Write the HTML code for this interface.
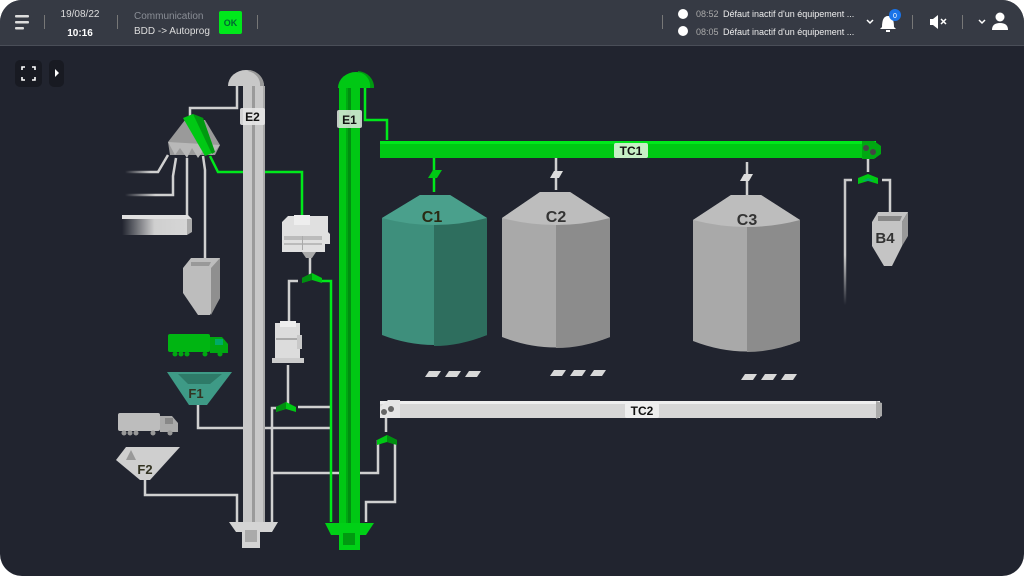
<!DOCTYPE html>
<html><head><meta charset="utf-8"><style>
html,body{margin:0;padding:0;background:#fff;}
body{width:1024px;height:576px;overflow:hidden;font-family:"Liberation Sans",sans-serif;}
svg{display:block}
</style></head><body>
<svg width="1024" height="576" viewBox="0 0 1024 576" xmlns="http://www.w3.org/2000/svg" font-family="Liberation Sans, sans-serif">
<defs>
<clipPath id="scr"><rect x="0" y="0" width="1024" height="576" rx="22"/></clipPath>
<linearGradient id="bar" x1="0" x2="1"><stop offset="0" stop-color="#21242f"/><stop offset="0.5" stop-color="#cfcfcf"/><stop offset="1" stop-color="#d6d6d6"/></linearGradient>
<linearGradient id="fade" x1="0" x2="1"><stop offset="0" stop-color="#21242f"/><stop offset="0.6" stop-color="#d0d0d0"/></linearGradient>
<linearGradient id="fadev" x1="0" y1="0" x2="0" y2="1"><stop offset="0.6" stop-color="#c8c8c8"/><stop offset="1" stop-color="#21242f"/></linearGradient>
</defs>
<g clip-path="url(#scr)">
<rect width="1024" height="576" fill="#21242f"/>
<rect width="1024" height="45" fill="#363a44"/>
<rect y="45" width="1024" height="1" fill="#4a4e58"/>
<!-- header -->
<rect x="15" y="15" width="14" height="2.5" rx="1" fill="#ddd"/><rect x="15" y="21" width="14" height="2.5" rx="1" fill="#ddd"/><rect x="15" y="27" width="9" height="2.5" rx="1" fill="#ddd"/>
<rect x="44" y="15" width="1" height="14" fill="#777"/>
<text x="80" y="17" font-size="10" fill="#ddd" text-anchor="middle">19/08/22</text>
<text x="80" y="36" font-size="10" font-weight="bold" fill="#fff" text-anchor="middle">10:16</text>
<rect x="117" y="15" width="1" height="14" fill="#777"/>
<text x="134" y="19" font-size="10" fill="#8a8e96">Communication</text>
<text x="134" y="34" font-size="10" fill="#ddd">BDD -&gt; Autoprog</text>
<rect x="219" y="11" width="23" height="23" rx="2" fill="#00e81b"/>
<text x="230.5" y="26" font-size="9" font-weight="bold" fill="#063" text-anchor="middle">OK</text>
<rect x="257" y="15" width="1" height="14" fill="#777"/>
<rect x="662" y="15" width="1" height="14" fill="#777"/>
<circle cx="683" cy="14" r="5" fill="#fff"/><circle cx="683" cy="31" r="5" fill="#fff"/>
<text x="696" y="17" font-size="9" fill="#aaa">08:52</text><text x="723" y="17" font-size="9" fill="#eee">Défaut inactif d'un équipement ...</text>
<text x="696" y="35" font-size="9" fill="#aaa">08:05</text><text x="723" y="35" font-size="9" fill="#eee">Défaut inactif d'un équipement ...</text>
<path d="M867 20 l3 3 l3 -3" stroke="#fff" stroke-width="1.5" fill="none"/>
<path d="M882 27 q0 -11 6 -11 q6 0 6 11 l2 2 h-16z" fill="#fff"/><rect x="886" y="30" width="4" height="2" fill="#fff"/>
<circle cx="895" cy="15" r="6" fill="#1a73e8"/><text x="895" y="18" font-size="7" fill="#fff" text-anchor="middle">0</text>
<rect x="912" y="15" width="1" height="14" fill="#777"/>
<path d="M930 19 h3 l5 -4 v14 l-5 -4 h-3z" fill="#fff"/><path d="M941 19 l5 5 M946 19 l-5 5" stroke="#fff" stroke-width="1.5"/>
<rect x="962" y="15" width="1" height="14" fill="#777"/>
<path d="M979 20 l3 3 l3 -3" stroke="#fff" stroke-width="1.5" fill="none"/>
<circle cx="1000" cy="17" r="4.5" fill="#fff"/><path d="M992 30 q0 -7 8 -7 q8 0 8 7z" fill="#fff"/>
<!-- canvas buttons -->
<rect x="15" y="60" width="27" height="27" rx="5" fill="#181a22"/>
<path d="M22 70 v-3 h3 M32 67 h3 v3 M35 77 v3 h-3 M25 80 h-3 v-3" stroke="#fff" stroke-width="1.6" fill="none"/>
<rect x="49" y="60" width="15" height="27" rx="5" fill="#181a22"/>
<path d="M55 69 l4 4 l-4 4z" fill="#fff"/>

<!-- grey lines -->
<g stroke="#d0d0d0" stroke-width="2.5" fill="none">
<path d="M237 86 V108 H190 V116"/>
<path d="M187 158 V222"/>
<path d="M203 156 L205 170 V260"/>
<path d="M176 158 L173 176 V195 H125" stroke="url(#fade)"/>
<path d="M168 155 L158 172 H125" stroke="url(#fade)"/>
<path d="M310 258 V275"/>
<path d="M298 281 H289 V322"/>
<path d="M288 365 V404"/>
<path d="M298 407 H331"/>
<path d="M280 408 H272 V522"/>
<path d="M198 405 V428 H331"/>
<path d="M272 473 H378 V440"/>
<path d="M395 442 V502 H366 V522"/>
<path d="M386 415 V432"/>
<path d="M145 480 V495 H237 V522"/>
<path d="M868 158 V172"/>
<path d="M852 180 H845 V305" stroke="url(#fadev)"/>
<path d="M882 180 H890 V212"/>
</g>
<!-- green lines -->
<g stroke="#00e81b" stroke-width="2.5" fill="none">
<path d="M210 156 L218 172 H302 V218"/>
<path d="M320 281 H331 V522"/>
<path d="M365 88 V120 H387 V140"/>
<path d="M434 158 V192"/>
</g>
<path d="M556 158 V190 M747 162 V195" stroke="#d0d0d0" stroke-width="2.5"/>

<!-- E2 -->
<path d="M228 86 a18 16 0 0 1 36 0z" fill="#c8c8c8"/><path d="M250 70 a18 16 0 0 1 14 16 h-4 a16 14 0 0 0 -12 -15z" fill="#999"/>
<rect x="243" y="86" width="9" height="440" fill="#c8c8c8"/><rect x="255" y="86" width="9" height="440" fill="#c8c8c8"/>
<rect x="252" y="86" width="3" height="440" fill="#9a9a9a"/>
<rect x="263" y="86" width="2" height="440" fill="#aaa"/>
<path d="M229 522 H278 L272 532 H260 V548 H242 V532 H236z" fill="#d4d4d4"/><rect x="245" y="530" width="12" height="12" fill="#aaa"/>
<rect x="240" y="108" width="25" height="17" rx="2" fill="#e6e6e6" opacity="0.9"/>
<text x="252.5" y="121" font-size="12" font-weight="bold" fill="#111" text-anchor="middle">E2</text>
<!-- E1 -->
<path d="M338 88 a18 16 0 0 1 36 0z" fill="#00c814"/><path d="M358 71 a18 16 0 0 1 16 17 h-4 a14 14 0 0 0 -12 -16z" fill="#009a10"/>
<rect x="339" y="88" width="9" height="440" fill="#00c814"/><rect x="351" y="88" width="9" height="440" fill="#00c814"/>
<rect x="348" y="88" width="3" height="440" fill="#008f10"/><rect x="346" y="88" width="2" height="440" fill="#00a812"/>
<path d="M325 523 H374 L366 535 H360 V550 H339 V535 H331z" fill="#00d016"/><rect x="343" y="533" width="12" height="12" fill="#009a10"/>
<rect x="337" y="110" width="25" height="18" rx="2" fill="#dfe8df" opacity="0.85"/>
<text x="349.5" y="124" font-size="12" font-weight="bold" fill="#111" text-anchor="middle">E1</text>

<!-- TC1 -->
<rect x="380" y="141" width="496" height="17" fill="#00c814"/><rect x="380" y="141" width="496" height="3" fill="#00e81b"/>
<path d="M862 141 h12 l7 5 v8 l-7 5 h-12z" fill="#00a812"/><circle cx="866" cy="148" r="3" fill="#444"/><circle cx="873" cy="152" r="3" fill="#444"/>
<rect x="614" y="143" width="34" height="15" rx="2" fill="#c6f0c6"/>
<text x="631" y="155" font-size="12" font-weight="bold" fill="#111" text-anchor="middle">TC1</text>
<!-- TC2 -->
<rect x="380" y="401" width="500" height="17" fill="#d6d6d6"/><rect x="380" y="401" width="500" height="3" fill="#eee"/><path d="M876 401 l6 2 v13 l-6 3z" fill="#aaa"/>
<path d="M380 407 l8 -7 h12 v18 h-20z" fill="#e6e6e6"/><circle cx="384" cy="412" r="3" fill="#666"/><circle cx="391" cy="409" r="3" fill="#666"/>
<rect x="625" y="403" width="34" height="15" rx="2" fill="#eee"/>
<text x="642" y="415" font-size="12" font-weight="bold" fill="#111" text-anchor="middle">TC2</text>

<!-- silo valves -->
<path d="M428 178 l5 -8 h9 l-5 8z" fill="#00c814"/>
<path d="M550 178 l4 -7 h9 l-4 7z" fill="#ddd"/>
<path d="M740 181 l4 -7 h9 l-4 7z" fill="#ddd"/>
<!-- silos -->
<g>
<path d="M382 218 L420 195 H450 L487 218 V335 Q434 355 382 335z" fill="#3e8f7c"/>
<path d="M434 195 H450 L487 218 V335 Q460 346 434 346z" fill="#2e6e5e"/>
<path d="M382 218 L420 195 H450 L487 218 Q434 232 382 218z" fill="#4aa08c"/>
<text x="432" y="222" font-size="16" font-weight="bold" fill="#2a2a14" text-anchor="middle">C1</text>
</g>
<g>
<path d="M502 218 L540 192 H570 L610 218 V337 Q556 358 502 337z" fill="#a9a9a9"/>
<path d="M556 192 H570 L610 218 V337 Q583 348 556 348z" fill="#8c8c8c"/>
<path d="M502 218 L540 192 H570 L610 218 Q556 232 502 218z" fill="#bdbdbd"/>
<text x="556" y="222" font-size="16" font-weight="bold" fill="#333" text-anchor="middle">C2</text>
</g>
<g>
<path d="M693 220 L731 195 H761 L800 220 V341 Q747 362 693 341z" fill="#a9a9a9"/>
<path d="M747 195 H761 L800 220 V341 Q773 352 747 352z" fill="#8c8c8c"/>
<path d="M693 220 L731 195 H761 L800 220 Q747 234 693 220z" fill="#bdbdbd"/>
<text x="747" y="225" font-size="16" font-weight="bold" fill="#333" text-anchor="middle">C3</text>
</g>
<g fill="#d8d8d8">
<path d="M425 377 l4 -6 h12 l-4 6z"/><path d="M445 377 l4 -6 h12 l-4 6z"/><path d="M465 377 l4 -6 h12 l-4 6z"/>
<path d="M550 376 l4 -6 h12 l-4 6z"/><path d="M570 376 l4 -6 h12 l-4 6z"/><path d="M590 376 l4 -6 h12 l-4 6z"/>
<path d="M741 380 l4 -6 h12 l-4 6z"/><path d="M761 380 l4 -6 h12 l-4 6z"/><path d="M781 380 l4 -6 h12 l-4 6z"/>
</g>
<!-- B4 -->
<path d="M858 178 l10 -4 l10 4 v6 l-10 -3 l-10 3z" fill="#00c814"/><path d="M862 181 l6 -3 l6 3z" fill="#0a6"/>
<path d="M872 222 l6 -10 h30 l-6 10 v24 l-10 20 h-8 l-12 -20z" fill="#c4c4c4"/><path d="M902 222 l6 -10 v24 l-6 10z" fill="#999"/><path d="M878 216 h24 l-2 5 h-22z" fill="#888"/>
<text x="885" y="243" font-size="15" font-weight="bold" fill="#333" text-anchor="middle">B4</text>

<!-- distributor -->
<path d="M168 142 L185 120 H205 L220 145 L215 155 H170z" fill="#9a9a9a"/>
<path d="M168 142 L175 155 L180 148 L187 158 L192 148 L198 158 L205 148 L212 155 L220 145" fill="#b8b8b8"/>
<path d="M183 118 l10 -4 l10 4 l12 34 l-10 4z" fill="#00c814"/><path d="M193 114 l10 4 l12 34 l-3 2z" fill="#009a10"/>
<!-- feed bar -->
<rect x="122" y="219" width="65" height="16" fill="url(#bar)"/><path d="M187 219 h5 v13 l-5 3z" fill="#aaa"/><path d="M122 219 h70 l-4 -4 h-66z" fill="#e0e0e0"/>
<!-- hopper -->
<path d="M183 268 l8 -10 h29 v40 l-10 17 h-12 l-15 -22z" fill="#bdbdbd"/><path d="M211 268 l9 -10 v40 l-9 17z" fill="#8f8f8f"/><path d="M191 262 h20 l-2 4 h-18z" fill="#999"/>
<!-- green truck -->
<rect x="168" y="334" width="42" height="18" rx="2" fill="#00b512"/><path d="M210 337 h12 l6 7 v9 h-18z" fill="#00a812"/><rect x="215" y="339" width="8" height="6" fill="#0a6"/>
<g fill="#00a812"><circle cx="175" cy="354" r="2.5"/><circle cx="181" cy="354" r="2.5"/><circle cx="187" cy="354" r="2.5"/><circle cx="205" cy="354" r="2.5"/><circle cx="220" cy="354" r="2.5"/></g>
<!-- F1 -->
<path d="M167 372 h65 l-25 33 h-18z" fill="#3e9a86"/><path d="M178 374 h44 l-12 10 h-22z" fill="#2e7a68"/>
<text x="196" y="398" font-size="13" font-weight="bold" fill="#332" text-anchor="middle">F1</text>
<!-- grey truck -->
<rect x="118" y="413" width="42" height="18" rx="2" fill="#bdbdbd"/><path d="M160 416 h12 l6 7 v9 h-18z" fill="#aaa"/><rect x="165" y="418" width="8" height="6" fill="#888"/>
<g fill="#999"><circle cx="124" cy="433" r="2.5"/><circle cx="130" cy="433" r="2.5"/><circle cx="136" cy="433" r="2.5"/><circle cx="153" cy="433" r="2.5"/><circle cx="170" cy="433" r="2.5"/></g>
<!-- F2 -->
<path d="M116 460 l10 -13 h54 l-30 33 h-10z" fill="#cfcfcf"/><path d="M126 460 l5 -10 l5 10z" fill="#999"/>
<text x="145" y="474" font-size="13" font-weight="bold" fill="#332" text-anchor="middle">F2</text>
<!-- cleaner -->
<path d="M282 222 l6 -6 h40 v16 l2 2 v10 l-5 0 v8 h-43z" fill="#e0e0e0"/><rect x="294" y="215" width="16" height="10" fill="#eee"/>
<rect x="284" y="236" width="38" height="4" fill="#bbb"/><rect x="284" y="243" width="38" height="2" fill="#bbb"/><rect x="302" y="236" width="1" height="14" fill="#aaa"/>
<path d="M302 252 h14 l-4 6 h-6z" fill="#aaa"/>
<!-- valves -->
<path d="M302 278 l10 -5 l10 5 v5 l-10 -3 l-10 3z" fill="#00c814"/><path d="M302 278 l10 -5 v7 l-10 3z" fill="#008f10"/>
<!-- machine 2 -->
<rect x="275" y="323" width="25" height="35" fill="#dcdcdc"/><rect x="280" y="321" width="16" height="6" fill="#eee"/><rect x="276" y="338" width="24" height="2" fill="#aaa"/><rect x="297" y="335" width="5" height="14" fill="#c8c8c8"/><rect x="272" y="358" width="32" height="5" fill="#ccc"/>
<path d="M276 407 l10 -5 l10 5 v5 l-10 -3 l-10 3z" fill="#00c814"/><path d="M276 407 l10 -5 v7 l-10 3z" fill="#008f10"/>
<path d="M377 440 l10 -5 l10 5 v5 l-10 -3 l-10 3z" fill="#00c814"/><path d="M387 435 l10 5 v5 l-10 -3z" fill="#008f10"/>
</g>
</svg>
</body></html>
